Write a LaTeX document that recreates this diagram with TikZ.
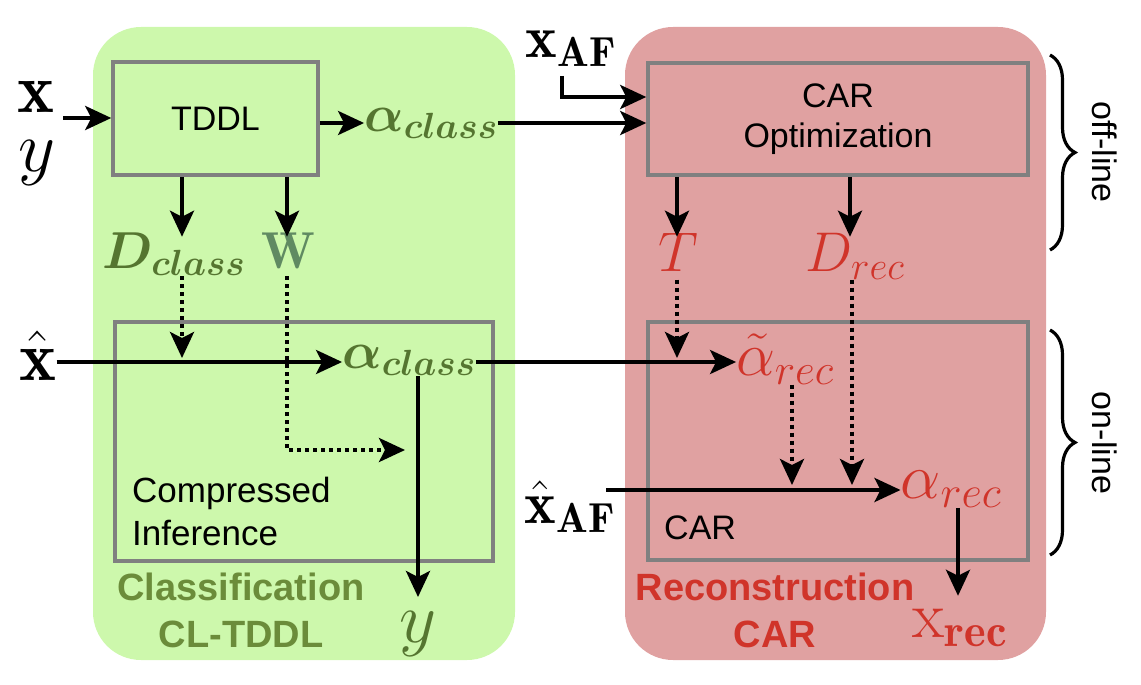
\RequirePackage{fix-cm}
\documentclass[tikz,border=0pt]{standalone}
\usepackage{amsmath,bm}
\usepackage{fontspec}
\setsansfont{Liberation Sans}
\usetikzlibrary{arrows.meta,decorations.pathreplacing,calc}
\definecolor{gfill}{RGB}{205,248,172}
\definecolor{rfill}{RGB}{224,161,161}
\definecolor{gtxt}{RGB}{107,140,58}
\definecolor{gmath}{RGB}{85,117,48}
\definecolor{wcol}{RGB}{96,138,98}
\definecolor{rtxt}{RGB}{208,52,42}
\definecolor{boxgray}{RGB}{128,128,128}
\newcommand{\fs}[1]{\fontsize{#1}{#1}\selectfont}
\tikzset{
  panel/.style={rounded corners=48pt, draw=none, inner sep=0},
  box/.style={draw=boxgray, line width=3.5pt, inner sep=0},
  lbl/.style={inner sep=0, anchor=base, font=\fs{52}},
  sans/.style={inner sep=0, font=\sffamily\fontsize{34}{40}\selectfont, align=center},
  ptitle/.style={inner sep=0, font=\sffamily\bfseries\fontsize{38}{47}\selectfont, align=center},
  arr/.style={line width=3.8pt, -{Stealth[length=26pt,width=24pt,inset=6pt]}},
  dotarr/.style={arr, dash pattern=on 4pt off 4pt},
  bracestyle/.style={line width=3.2pt, decorate, decoration={brace, amplitude=25pt}}
}
\begin{document}
\begin{tikzpicture}[x=1pt,y=-1pt]
\useasboundingbox (0,0) rectangle (1141,685);
% panels
\node[panel, fill=gfill, minimum width=422pt, minimum height=633pt] (gpanel) at (304,343.5) {};
\node[panel, fill=rfill, minimum width=421pt, minimum height=633pt] (rpanel) at (835.5,343.5) {};
% boxes
\node[box, sans, minimum width=205pt, minimum height=113pt] (tddl) at (215.5,118.5) {TDDL};
\node[box, sans, minimum width=380pt, minimum height=112pt] (caropt) at (838,119) {CAR\\Optimization};
\node[box, minimum width=378pt, minimum height=239pt] (cinf) at (304,441.5) {};
\node[box, minimum width=380pt, minimum height=238pt] (car) at (838,441) {};
\node[sans, align=left, anchor=base west, font=\sffamily\fontsize{35}{43}\selectfont] (cinftxt) at (132,545) {Compressed\\Inference};
\node[sans, anchor=base west] (cartxt) at (664,539) {CAR};
% titles
\node[ptitle, text=gtxt, anchor=base] (gtitle) at (241,647) {Classification\\CL-TDDL};
\node[ptitle, text=rtxt, anchor=base] (rtitle) at (775,647) {Reconstruction\\CAR};
% math labels
\node[lbl, font=\fs{70}] (xin) at (36,113) {$\mathbf{x}$};
\node[lbl, font=\fs{72}] (yin) at (37,171) {$y$};
\node[lbl, text=gmath] (acl1) at (431,131) {$\bm{\alpha_{class}}$};
\node[lbl, font=\fs{60}] (xaf) at (571,58) {$\mathbf{x}_{\mathbf{AF}}$};
\node[lbl, text=gmath] (dcl) at (174,268) {$\bm{D_{class}}$};
\node[lbl, text=wcol] (w) at (288,268) {$\mathbf{W}$};
\node[lbl, text=rtxt, font=\fs{56}] (tt) at (678,271) {$T$};
\node[lbl, text=rtxt, font=\fs{56}] (drec) at (855,271) {$D_{rec}$};
\node[lbl, font=\fs{70}] (xhat) at (38,380) {$\hat{\mathbf{x}}$};
\node[lbl, text=gmath] (acl2) at (409,368) {$\bm{\alpha_{class}}$};
\node[lbl, text=rtxt, font=\fs{62}] (atil) at (785,375) {$\tilde{\alpha}_{rec}$};
\node[lbl, font=\fs{60}] (xhaf) at (570,523) {$\hat{\mathbf{x}}_{\mathbf{AF}}$};
\node[lbl, text=rtxt, font=\fs{64}] (arec) at (951,498) {$\alpha_{rec}$};
\node[lbl, text=rtxt, font=\fs{66}] (xrec) at (960,637) {$\mathrm{x}_{\mathbf{rec}}$};
\node[lbl, text=gmath, font=\fs{72}] (yout) at (418,642) {$y$};
% helper coordinates
\coordinate (inxy) at (63,118);
\coordinate (l123) at (0,123);
\coordinate (l97) at (0,97);
\coordinate (xafc) at (562,76);
\coordinate (c182) at (182,0);
\coordinate (c287) at (287,0);
\coordinate (c677) at (677,0);
\coordinate (c850) at (850,0);
\coordinate (c852) at (852,0);
\coordinate (c792) at (792,0);
\coordinate (c418) at (418,0);
\coordinate (c958) at (958,0);
\coordinate (l362) at (0,362);
\coordinate (l490) at (0,490);
\coordinate (wend) at (405,450);
\coordinate (xafs) at (606,490);
% solid connectors
\draw[arr] (inxy) -- (inxy -| tddl.west);
\draw[arr] (tddl.east |- l123) -- (acl1.west |- l123);
\draw[arr] (acl1.east |- l123) -- (caropt.west |- l123);
\draw[arr] (xafc) |- (caropt.west |- l97);
\draw[arr] (tddl.south -| c182) -- ++(0,60);
\draw[arr] (tddl.south -| c287) -- ++(0,60);
\draw[arr] (caropt.south -| c677) -- ++(0,60);
\draw[arr] (caropt.south -| c850) -- ++(0,60);
\draw[arr] (xhat.east |- l362) -- (acl2.west |- l362);
\draw[arr] (acl2.east |- l362) -- (atil.west |- l362);
\draw[arr] (acl2.south -| c418) -- ++(0,221);
\draw[arr] (xafs) -- (arec.west |- l490);
\draw[arr] (arec.south -| c958) -- ++(0,88);
% dotted connectors
\draw[dotarr] (dcl.south -| c182) -- ($(c182 |- l362)+(0,-4)$);
\draw[dotarr] (dcl.south -| c287) |- (wend);
\draw[dotarr] (drec.south -| c677) -- ($(c677 |- l362)+(0,-4)$);
\draw[dotarr] (drec.south -| c852) -- ($(c852 |- l490)+(0,-5)$);
\draw[dotarr] (atil.south -| c792) -- ($(c792 |- l490)+(0,-5)$);
% braces
\coordinate (b1t) at (1050,55);
\coordinate (b1b) at (1050,250);
\coordinate (b2t) at (1050,330);
\coordinate (b2b) at (1050,555);
\draw[bracestyle] (b1t) -- (b1b);
\draw[bracestyle] (b2t) -- (b2b);
\node[sans, rotate=-90] (offl) at (1105,152) {off-line};
\node[sans, rotate=-90] (onl) at (1105,443) {on-line};
\end{tikzpicture}
\end{document}
